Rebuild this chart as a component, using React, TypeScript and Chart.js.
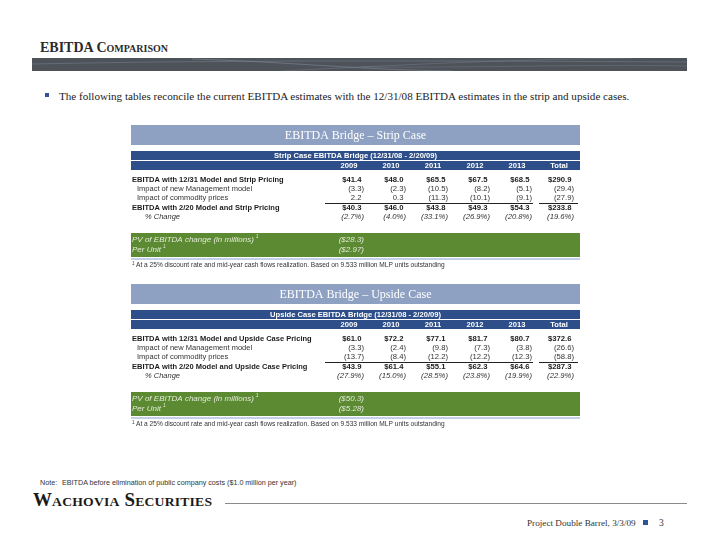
import React, { useEffect, useRef } from "react";
import { Chart, registerables } from "chart.js";

Chart.register(...registerables);

// ---------- data ----------
const years = ["2009", "2010", "2011", "2012", "2013", "Total"];

const stripTitle = "EBITDA Bridge \u2013 Strip Case";
const stripSubtitle = "Strip Case EBITDA Bridge (12/31/08 - 2/20/09)";
const stripRowLabels = [
  "EBITDA with 12/31 Model and Strip Pricing",
  "Impact of new Management model",
  "Impact of commodity prices",
  "EBITDA with 2/20 Model and Strip Pricing",
  "% Change",
];
const stripBase = [41.4, 48.0, 65.5, 67.5, 68.5, 290.9];
const stripMgmt = [-3.3, -2.3, -10.5, -8.2, -5.1, -29.4];
const stripCommodity = [2.2, 0.3, -11.3, -10.1, -9.1, -27.9];
const stripNew = [40.3, 46.0, 43.8, 49.3, 54.3, 233.8];
const stripPct = [-2.7, -4.0, -33.1, -26.9, -20.8, -19.6];
const stripPV = -28.3;
const stripPerUnit = -2.97;

const upsideTitle = "EBITDA Bridge \u2013 Upside Case";
const upsideSubtitle = "Upside Case EBITDA Bridge (12/31/08 - 2/20/09)";
const upsideRowLabels = [
  "EBITDA with 12/31 Model and Upside Case Pricing",
  "Impact of new Management model",
  "Impact of commodity prices",
  "EBITDA with 2/20 Model and Upside Case Pricing",
  "% Change",
];
const upsideBase = [61.0, 72.2, 77.1, 81.7, 80.7, 372.6];
const upsideMgmt = [-3.3, -2.4, -9.8, -7.3, -3.8, -26.6];
const upsideCommodity = [-13.7, -8.4, -12.2, -12.2, -12.3, -58.8];
const upsideNew = [43.9, 61.4, 55.1, 62.3, 64.6, 287.3];
const upsidePct = [-27.9, -15.0, -28.5, -23.8, -19.9, -22.9];
const upsidePV = -50.3;
const upsidePerUnit = -5.28;

const pvLabel = "PV of EBITDA change (in millions)";
const perUnitLabel = "Per Unit";
const footnoteText =
  "At a 25% discount rate and mid-year cash flows realization. Based on 9.533 million MLP units outstanding";

// ---------- styling ----------
const rowKinds = ["total", "item", "item", "total", "pct"];
const SANS = '"Liberation Sans", Arial, sans-serif';
const SERIF = '"Liberation Serif", "Times New Roman", serif';

function fmt(v: number, kind: string, digits = 1) {
  const a = Math.abs(v).toFixed(digits);
  if (kind === "pct") return v < 0 ? `(${a}%)` : `${a}%`;
  if (kind === "total") return v < 0 ? `($${a})` : `$${a}`;
  return v < 0 ? `(${a})` : a;
}

type TableDef = {
  title: string;
  subtitle: string;
  rowLabels: string[];
  rows: number[][];
  pv: number;
  perUnit: number;
};

function drawTable(chart: any, t: TableDef) {
  const ctx = chart.ctx as CanvasRenderingContext2D;
  const W = chart.width;
  const xs = chart.scales.x;
  const ys = chart.scales.y;
  const colW = xs.width / years.length;
  ctx.save();
  ctx.textBaseline = "middle";

  // title band
  ctx.fillStyle = "#8ea1c3";
  ctx.fillRect(0, 1, W, 20);
  ctx.fillStyle = "#ffffff";
  ctx.font = `12px ${SERIF}`;
  ctx.textAlign = "center";
  ctx.fillText(t.title, W / 2, 11.5);

  // header band
  ctx.fillStyle = "#2d4e88";
  ctx.fillRect(0, 27, W, 19);
  ctx.fillStyle = "#ffffff";
  ctx.fillRect(0, 36, W, 1);
  ctx.font = `bold 7.6px ${SANS}`;
  ctx.fillText(t.subtitle, W / 2, 32);
  years.forEach((y, i) => ctx.fillText(y, xs.getPixelForValue(i), 41.8));

  // row labels
  t.rowLabels.forEach((label, r) => {
    const y = ys.getPixelForValue(r);
    const kind = rowKinds[r];
    ctx.textAlign = "left";
    ctx.fillStyle = "#1b1b1b";
    if (kind === "total") {
      ctx.font = `bold 7.5px ${SANS}`;
      ctx.fillText(label, 1, y);
    } else if (kind === "item") {
      ctx.font = `7.5px ${SANS}`;
      ctx.fillStyle = "#333";
      ctx.fillText(label, 6, y);
    } else {
      ctx.font = `italic 7.5px ${SANS}`;
      ctx.fillStyle = "#333";
      ctx.fillText(label, 14, y);
    }
  });

  // values from dataset points
  chart.data.datasets.forEach((ds: any, r: number) => {
    const meta = chart.getDatasetMeta(r);
    const kind = rowKinds[r];
    meta.data.forEach((pt: any, i: number) => {
      const v = ds.data[i].v;
      const s = fmt(v, kind);
      if (kind === "total") ctx.font = `bold 7.7px ${SANS}`;
      else if (kind === "pct") ctx.font = `italic 7.7px ${SANS}`;
      else ctx.font = `7.7px ${SANS}`;
      ctx.fillStyle = kind === "total" ? "#1b1b1b" : "#333";
      ctx.textAlign = "right";
      let right = pt.x + colW / 2 - 6;
      if (!s.endsWith(")")) right -= ctx.measureText(")").width;
      ctx.fillText(s, right, pt.y);
    });
  });

  // underline between commodity row and new EBITDA row
  const ly = Math.round((ys.getPixelForValue(2) + ys.getPixelForValue(3)) / 2) + 0.5;
  ctx.strokeStyle = "#222";
  ctx.lineWidth = 1;
  ctx.beginPath();
  const c0 = xs.getPixelForValue(0) - colW / 2;
  const c4 = xs.getPixelForValue(4) + colW / 2;
  const c5 = xs.getPixelForValue(5);
  ctx.moveTo(c0 - 3, ly);
  ctx.lineTo(c4 - 5, ly);
  ctx.moveTo(c5 - colW / 2 + 1, ly);
  ctx.lineTo(c5 + colW / 2 - 2, ly);
  ctx.stroke();

  // green band
  ctx.fillStyle = "#5c8a33";
  ctx.fillRect(0, 109, W, 24);
  ctx.fillStyle = "#e2ebd6";
  ctx.textAlign = "left";
  ctx.font = `italic 8px ${SANS}`;
  ctx.fillText(pvLabel, 1, 115.5);
  let w = ctx.measureText(pvLabel).width;
  ctx.font = `italic 5px ${SANS}`;
  ctx.fillText("1", 1 + w + 2, 112.5);
  ctx.font = `italic 8px ${SANS}`;
  ctx.fillText(perUnitLabel, 1, 125.5);
  w = ctx.measureText(perUnitLabel).width;
  ctx.font = `italic 5px ${SANS}`;
  ctx.fillText("1", 1 + w + 2, 122.5);
  ctx.font = `italic 8px ${SANS}`;
  ctx.textAlign = "right";
  const r0 = xs.getPixelForValue(0) + colW / 2 - 6;
  ctx.fillText(fmt(t.pv, "total"), r0, 115.5);
  ctx.fillText(fmt(t.perUnit, "total", 2), r0, 125.5);

  // light rule
  ctx.fillStyle = "#c3d0e5";
  ctx.fillRect(0, 134, W, 2);

  // footnote
  ctx.fillStyle = "#333";
  ctx.textAlign = "left";
  ctx.font = `4.5px ${SANS}`;
  ctx.fillText("1", 1, 139.5);
  ctx.font = `6.6px ${SANS}`;
  ctx.fillText(footnoteText, 5, 141);
  ctx.restore();
}

function BridgeTable({ def, left, top }: { def: TableDef; left: number; top: number }) {
  const ref = useRef<HTMLCanvasElement>(null);
  useEffect(() => {
    if (!ref.current) return;
    const datasets = def.rows.map((vals, r) => ({
      label: def.rowLabels[r],
      data: vals.map((v, i) => ({ x: years[i], y: def.rowLabels[r], v })),
      pointRadius: 0,
      showLine: false,
    }));
    const chart = new Chart(ref.current, {
      type: "scatter",
      data: { datasets } as any,
      options: {
        responsive: false,
        animation: false,
        events: [],
        layout: { padding: { left: 197, right: 0, top: 51, bottom: 50.5 } },
        scales: {
          x: { type: "category", labels: years, offset: true, display: false },
          y: { type: "category", labels: def.rowLabels, offset: true, display: false },
        },
        plugins: { legend: { display: false }, tooltip: { enabled: false } },
      } as any,
      plugins: [
        {
          id: "bridgeTable",
          afterDraw: (c: any) => drawTable(c, def),
        },
      ],
    });
    return () => chart.destroy();
  }, [def]);
  return (
    <canvas
      ref={ref}
      width={449}
      height={148}
      style={{ position: "absolute", left, top, width: 449, height: 148 }}
    />
  );
}

const stripDef: TableDef = {
  title: stripTitle,
  subtitle: stripSubtitle,
  rowLabels: stripRowLabels,
  rows: [stripBase, stripMgmt, stripCommodity, stripNew, stripPct],
  pv: stripPV,
  perUnit: stripPerUnit,
};
const upsideDef: TableDef = {
  title: upsideTitle,
  subtitle: upsideSubtitle,
  rowLabels: upsideRowLabels,
  rows: [upsideBase, upsideMgmt, upsideCommodity, upsideNew, upsidePct],
  pv: upsidePV,
  perUnit: upsidePerUnit,
};

export default function App() {
  return (
    <div
      style={{
        position: "absolute",
        left: 0,
        top: 0,
        width: 720,
        height: 556,
        background: "#fff",
        overflow: "hidden",
      }}
    >
      <div
        style={{
          position: "absolute",
          left: 40,
          top: 40,
          fontFamily: SERIF,
          fontSize: 14,
          fontWeight: "bold",
          fontVariant: "small-caps",
          lineHeight: "16px",
          color: "#2b2b2b",
          whiteSpace: "nowrap",
        }}
      >
        EBITDA Comparison
      </div>
      <svg
        style={{ position: "absolute", left: 32, top: 58 }}
        width={655}
        height={13}
      >
        <rect x={0} y={0} width={655} height={13} fill="#4e5259" />
        <path d="M0 6 C 150 3, 300 2, 655 4" stroke="#7d8796" strokeWidth={0.7} fill="none" opacity={0.7} />
        <path d="M160 1 C 260 4, 330 12, 420 13" stroke="#8a95a6" strokeWidth={0.7} fill="none" opacity={0.7} />
        <path d="M250 13 C 350 8, 450 2, 600 0" stroke="#7d8796" strokeWidth={0.7} fill="none" opacity={0.6} />
        <path d="M330 9 C 450 10, 550 6, 655 8" stroke="#8a95a6" strokeWidth={0.6} fill="none" opacity={0.5} />
      </svg>
      <div
        style={{
          position: "absolute",
          left: 45,
          top: 93,
          width: 4,
          height: 4,
          background: "#2f5597",
        }}
      />
      <div
        style={{
          position: "absolute",
          left: 59,
          top: 89,
          fontFamily: SERIF,
          fontSize: 11.1,
          lineHeight: "14px",
          color: "#222",
          whiteSpace: "nowrap",
        }}
      >
        The following tables reconcile the current EBITDA estimates with the 12/31/08 EBITDA estimates in the strip and upside cases.
      </div>

      <BridgeTable def={stripDef} left={131} top={124} />
      <BridgeTable def={upsideDef} left={131} top={283} />

      <div
        style={{
          position: "absolute",
          left: 40,
          top: 478,
          fontFamily: SANS,
          fontSize: 7.2,
          lineHeight: "10px",
          color: "#333",
          whiteSpace: "nowrap",
        }}
      >
        <span style={{ display: "inline-block", width: 22 }}>Note:</span>
        EBITDA before elimination of public company costs ($1.0 million per year)
      </div>
      <div
        style={{
          position: "absolute",
          left: 33,
          top: 491,
          fontFamily: SERIF,
          fontSize: 18,
          fontWeight: "bold",
          fontVariant: "small-caps",
          letterSpacing: "0.2px",
          lineHeight: "18px",
          color: "#1a1a1a",
          whiteSpace: "nowrap",
          transform: "scaleX(1.05)",
          transformOrigin: "left center",
        }}
      >
        Wachovia Securities
      </div>
      <div
        style={{
          position: "absolute",
          left: 225,
          top: 503,
          width: 462,
          height: 1,
          background: "#8a8a8a",
        }}
      />
      <div
        style={{
          position: "absolute",
          left: 527,
          top: 516,
          fontFamily: SERIF,
          fontSize: 9.2,
          lineHeight: "14px",
          color: "#333",
          whiteSpace: "nowrap",
        }}
      >
        Project Double Barrel, 3/3/09
      </div>
      <div
        style={{
          position: "absolute",
          left: 643,
          top: 520,
          width: 5,
          height: 5,
          background: "#2f5597",
        }}
      />
      <div
        style={{
          position: "absolute",
          left: 659,
          top: 516,
          fontFamily: SERIF,
          fontSize: 9.5,
          lineHeight: "14px",
          color: "#333",
        }}
      >
        3
      </div>
    </div>
  );
}
